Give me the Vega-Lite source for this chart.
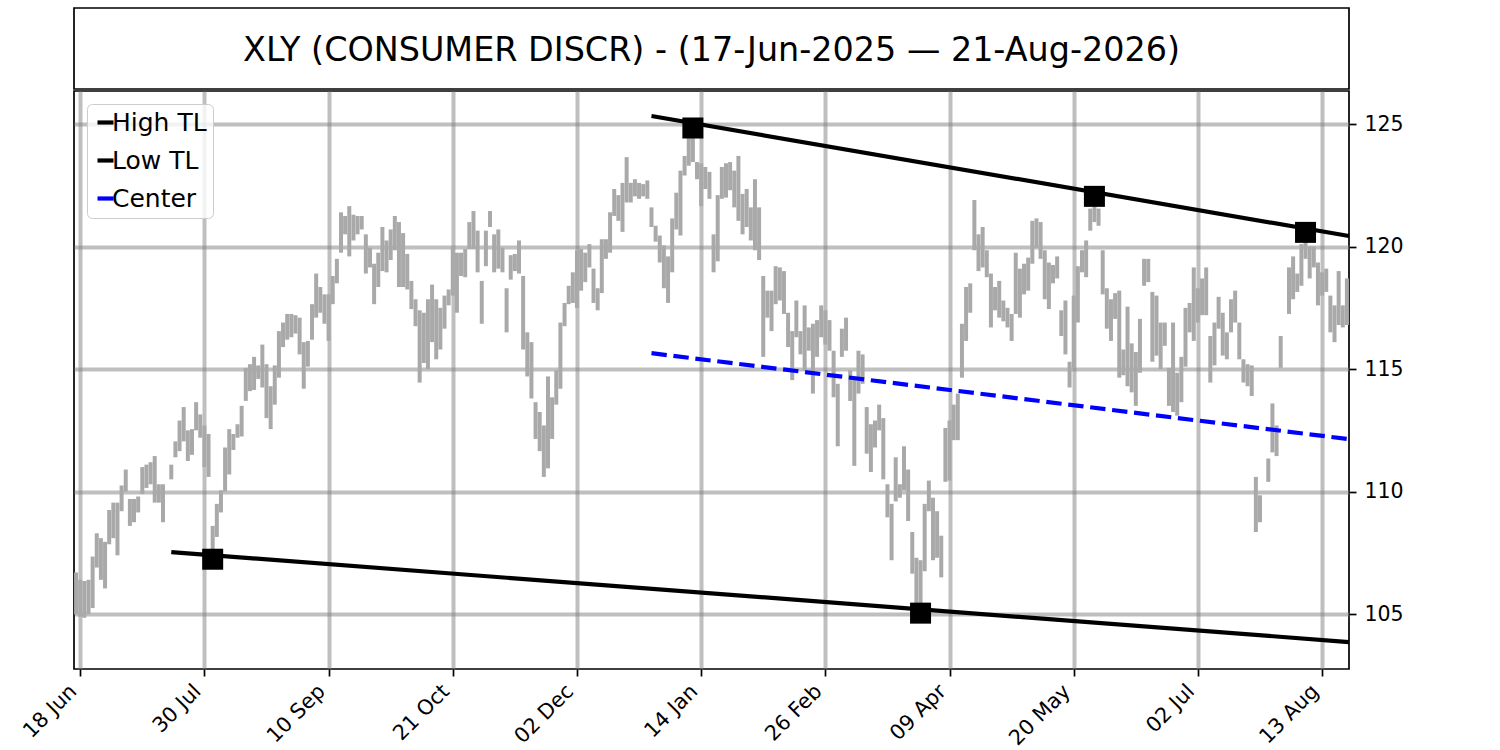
{
  "$schema": "https://vega.github.io/schema/vega-lite/v6.json",
  "background": "white",
  "padding": {"left": 18, "top": 7, "right": 5, "bottom": 5},
  "spacing": 0,
  "datasets": {
    "bars": [
      {"i":0,"lo":105.0,"hi":106.7},{"i":1,"lo":104.9,"hi":106.4},{"i":2,"lo":104.85,"hi":106.35},{"i":3,"lo":105.0,"hi":106.4},
      {"i":4,"lo":105.25,"hi":107.35},{"i":5,"lo":106.9,"hi":108.3},{"i":6,"lo":106.4,"hi":108.1},{"i":7,"lo":106.05,"hi":107.95},
      {"i":8,"lo":107.85,"hi":109.25},{"i":9,"lo":108.1,"hi":109.55},{"i":10,"lo":107.4,"hi":109.55},{"i":11,"lo":109.2,"hi":110.25},
      {"i":12,"lo":110.0,"hi":110.9},{"i":13,"lo":108.6,"hi":109.7},{"i":14,"lo":108.75,"hi":109.7},{"i":15,"lo":109.15,"hi":109.8},
      {"i":16,"lo":109.9,"hi":111.0},{"i":17,"lo":110.15,"hi":111.1},{"i":18,"lo":110.3,"hi":111.2},{"i":19,"lo":109.55,"hi":111.45},
      {"i":20,"lo":109.55,"hi":110.3},{"i":21,"lo":108.75,"hi":110.3},{"i":23,"lo":110.5,"hi":111.1},
      {"i":24,"lo":111.4,"hi":112.05},{"i":25,"lo":111.65,"hi":112.9},{"i":26,"lo":112.05,"hi":113.45},{"i":27,"lo":111.25,"hi":112.5},
      {"i":28,"lo":111.5,"hi":112.55},{"i":29,"lo":112.5,"hi":113.65},{"i":30,"lo":112.2,"hi":113.15},{"i":31,"lo":111.0,"hi":112.7},
      {"i":32,"lo":110.6,"hi":112.35},{"i":33,"lo":107.25,"hi":108.6},{"i":34,"lo":108.15,"hi":109.5},{"i":35,"lo":109.15,"hi":110.05},
      {"i":36,"lo":110.0,"hi":111.8},{"i":37,"lo":110.7,"hi":112.55},{"i":38,"lo":111.7,"hi":112.35},{"i":39,"lo":112.2,"hi":112.75},
      {"i":40,"lo":112.25,"hi":113.5},{"i":41,"lo":113.7,"hi":115.05},{"i":42,"lo":114.1,"hi":115.2},{"i":43,"lo":114.15,"hi":115.5},
      {"i":44,"lo":114.6,"hi":115.15},{"i":45,"lo":114.25,"hi":116.0},{"i":46,"lo":113.0,"hi":115.2},{"i":47,"lo":112.55,"hi":114.3},
      {"i":48,"lo":113.55,"hi":115.15},{"i":49,"lo":114.65,"hi":116.55},{"i":50,"lo":115.9,"hi":116.9},{"i":51,"lo":116.2,"hi":117.25},
      {"i":52,"lo":116.3,"hi":117.25},{"i":53,"lo":116.45,"hi":117.2},{"i":54,"lo":115.6,"hi":117.1},{"i":55,"lo":114.2,"hi":116.1},
      {"i":56,"lo":115.1,"hi":116.15},{"i":57,"lo":116.2,"hi":117.65},{"i":58,"lo":117.1,"hi":118.9},{"i":59,"lo":117.3,"hi":118.35},
      {"i":60,"lo":116.85,"hi":118.05},{"i":61,"lo":116.15,"hi":118.05},{"i":62,"lo":117.65,"hi":118.8},{"i":63,"lo":118.5,"hi":119.5},
      {"i":64,"lo":119.75,"hi":121.4},{"i":65,"lo":120.5,"hi":121.25},{"i":66,"lo":119.6,"hi":121.65},{"i":67,"lo":120.25,"hi":121.3},
      {"i":68,"lo":120.5,"hi":121.25},{"i":69,"lo":120.7,"hi":121.25},{"i":70,"lo":118.9,"hi":120.5},{"i":71,"lo":119.15,"hi":119.95},
      {"i":72,"lo":117.65,"hi":119.3},{"i":73,"lo":118.35,"hi":119.75},{"i":74,"lo":119.0,"hi":120.8},{"i":75,"lo":118.95,"hi":120.25},
      {"i":76,"lo":119.45,"hi":120.7},{"i":77,"lo":119.85,"hi":121.25},{"i":78,"lo":118.35,"hi":121.0},{"i":79,"lo":118.35,"hi":120.55},
      {"i":80,"lo":118.25,"hi":119.7},{"i":81,"lo":117.45,"hi":118.6},{"i":82,"lo":116.75,"hi":117.85},{"i":83,"lo":114.45,"hi":117.4},
      {"i":84,"lo":115.25,"hi":117.3},{"i":85,"lo":115.0,"hi":117.85},{"i":86,"lo":116.1,"hi":118.45},{"i":87,"lo":115.4,"hi":117.85},
      {"i":88,"lo":115.8,"hi":117.5},{"i":89,"lo":116.65,"hi":118.0},{"i":90,"lo":117.6,"hi":118.25},{"i":91,"lo":118.0,"hi":120.0},
      {"i":92,"lo":117.3,"hi":119.75},{"i":93,"lo":118.8,"hi":119.75},{"i":94,"lo":118.75,"hi":119.9},{"i":95,"lo":119.9,"hi":121.0},
      {"i":96,"lo":119.9,"hi":121.45},{"i":97,"lo":118.95,"hi":120.65},{"i":98,"lo":116.85,"hi":118.6},{"i":99,"lo":119.2,"hi":120.65},
      {"i":100,"lo":120.8,"hi":121.45},{"i":101,"lo":118.95,"hi":120.5},{"i":102,"lo":119.1,"hi":120.7},{"i":103,"lo":118.95,"hi":119.95},
      {"i":104,"lo":116.5,"hi":118.3},{"i":105,"lo":118.65,"hi":119.65},{"i":106,"lo":119.0,"hi":119.7},{"i":107,"lo":118.9,"hi":120.25},
      {"i":108,"lo":115.8,"hi":118.8},{"i":109,"lo":114.7,"hi":116.5},{"i":110,"lo":113.8,"hi":116.1},{"i":111,"lo":112.15,"hi":113.65},
      {"i":112,"lo":111.65,"hi":113.25},{"i":113,"lo":110.6,"hi":112.7},{"i":114,"lo":110.95,"hi":114.7},{"i":115,"lo":112.15,"hi":113.85},
      {"i":116,"lo":113.55,"hi":114.95},{"i":117,"lo":114.2,"hi":116.9},{"i":118,"lo":116.75,"hi":117.7},{"i":119,"lo":117.65,"hi":118.4},
      {"i":120,"lo":117.7,"hi":118.95},{"i":121,"lo":117.5,"hi":119.85},{"i":122,"lo":118.2,"hi":119.9},{"i":123,"lo":118.55,"hi":119.75},
      {"i":124,"lo":119.15,"hi":120.1},{"i":125,"lo":117.7,"hi":119.1},{"i":126,"lo":117.4,"hi":118.3},{"i":127,"lo":118.1,"hi":120.3},
      {"i":128,"lo":119.5,"hi":120.3},{"i":129,"lo":119.75,"hi":121.4},{"i":130,"lo":121.25,"hi":122.35},{"i":131,"lo":121.05,"hi":122.1},
      {"i":132,"lo":120.6,"hi":122.6},{"i":133,"lo":121.8,"hi":123.65},{"i":134,"lo":121.8,"hi":122.6},{"i":135,"lo":122.05,"hi":122.75},
      {"i":136,"lo":121.95,"hi":122.6},{"i":137,"lo":122.05,"hi":122.55},{"i":138,"lo":121.95,"hi":122.7},{"i":139,"lo":120.8,"hi":121.6},
      {"i":140,"lo":120.2,"hi":120.85},{"i":141,"lo":119.35,"hi":120.45},{"i":142,"lo":118.3,"hi":120.05},{"i":143,"lo":117.7,"hi":119.6},
      {"i":144,"lo":118.95,"hi":121.15},{"i":145,"lo":120.7,"hi":122.2},{"i":146,"lo":120.45,"hi":123.1},{"i":147,"lo":122.9,"hi":123.7},
      {"i":148,"lo":123.3,"hi":124.45},{"i":149,"lo":123.45,"hi":124.84},{"i":150,"lo":122.75,"hi":123.45},{"i":151,"lo":121.65,"hi":123.4},
      {"i":152,"lo":122.35,"hi":123.25},{"i":153,"lo":121.95,"hi":123.05},{"i":154,"lo":118.95,"hi":120.5},{"i":155,"lo":119.4,"hi":122.1},
      {"i":156,"lo":121.95,"hi":123.25},{"i":157,"lo":122.0,"hi":123.4},{"i":158,"lo":122.3,"hi":123.45},{"i":159,"lo":121.6,"hi":123.1},
      {"i":160,"lo":121.05,"hi":123.7},{"i":161,"lo":120.5,"hi":122.15},{"i":162,"lo":120.8,"hi":122.35},{"i":163,"lo":120.25,"hi":121.6},
      {"i":164,"lo":119.85,"hi":122.75},{"i":165,"lo":119.45,"hi":121.6},{"i":166,"lo":115.5,"hi":118.8},{"i":167,"lo":117.1,"hi":118.2},
      {"i":168,"lo":116.55,"hi":118.2},{"i":169,"lo":117.65,"hi":119.2},{"i":170,"lo":117.8,"hi":119.15},{"i":171,"lo":117.25,"hi":119.0},
      {"i":172,"lo":115.9,"hi":117.3},{"i":173,"lo":114.55,"hi":116.55},{"i":174,"lo":116.3,"hi":117.8},{"i":175,"lo":115.6,"hi":116.55},
      {"i":176,"lo":114.95,"hi":117.6},{"i":177,"lo":115.75,"hi":116.7},{"i":178,"lo":114.0,"hi":116.85},{"i":179,"lo":115.5,"hi":117.0},
      {"i":180,"lo":116.3,"hi":117.6},{"i":181,"lo":116.0,"hi":117.4},{"i":182,"lo":115.75,"hi":117.0},{"i":183,"lo":113.85,"hi":115.75},
      {"i":184,"lo":111.85,"hi":114.4},{"i":185,"lo":115.5,"hi":116.65},{"i":186,"lo":115.75,"hi":117.1},{"i":187,"lo":113.7,"hi":114.95},
      {"i":188,"lo":111.05,"hi":114.65},{"i":189,"lo":114.0,"hi":115.75},{"i":190,"lo":114.4,"hi":115.6},{"i":191,"lo":111.55,"hi":113.45},
      {"i":192,"lo":110.8,"hi":112.75},{"i":193,"lo":111.8,"hi":112.9},{"i":194,"lo":112.5,"hi":113.55},{"i":195,"lo":110.5,"hi":113.0},
      {"i":196,"lo":108.95,"hi":110.3},{"i":197,"lo":107.2,"hi":109.5},{"i":198,"lo":109.6,"hi":111.4},{"i":199,"lo":109.75,"hi":110.3},
      {"i":200,"lo":110.05,"hi":111.85},{"i":201,"lo":108.8,"hi":110.9},{"i":202,"lo":106.65,"hi":108.35},{"i":203,"lo":105.4,"hi":107.3},
      {"i":204,"lo":105.04,"hi":107.2},{"i":205,"lo":106.75,"hi":109.5},{"i":206,"lo":109.2,"hi":110.45},{"i":207,"lo":107.2,"hi":109.75},
      {"i":208,"lo":107.3,"hi":109.2},{"i":209,"lo":106.5,"hi":108.2},{"i":210,"lo":110.4,"hi":112.6},{"i":211,"lo":110.45,"hi":112.9},
      {"i":212,"lo":112.1,"hi":113.55},{"i":213,"lo":112.1,"hi":114.0},{"i":214,"lo":114.65,"hi":116.85},{"i":215,"lo":116.15,"hi":118.35},
      {"i":216,"lo":117.3,"hi":118.5},{"i":217,"lo":119.85,"hi":121.9},{"i":218,"lo":119.0,"hi":120.5},{"i":219,"lo":119.15,"hi":120.8},
      {"i":220,"lo":118.75,"hi":119.85},{"i":221,"lo":116.7,"hi":118.9},{"i":222,"lo":117.4,"hi":118.35},{"i":223,"lo":117.1,"hi":118.6},
      {"i":224,"lo":116.95,"hi":117.8},{"i":225,"lo":116.7,"hi":117.5},{"i":226,"lo":116.15,"hi":117.25},{"i":227,"lo":117.25,"hi":119.75},
      {"i":228,"lo":117.1,"hi":119.1},{"i":229,"lo":118.05,"hi":119.3},{"i":230,"lo":118.2,"hi":119.55},{"i":231,"lo":119.3,"hi":121.05},
      {"i":232,"lo":119.95,"hi":121.15},{"i":233,"lo":119.5,"hi":121.0},{"i":234,"lo":117.85,"hi":119.85},{"i":235,"lo":117.45,"hi":119.35},
      {"i":236,"lo":118.5,"hi":119.25},{"i":237,"lo":118.7,"hi":119.6},{"i":238,"lo":116.35,"hi":117.4},{"i":239,"lo":115.6,"hi":117.8},
      {"i":240,"lo":114.25,"hi":115.3},{"i":241,"lo":115.05,"hi":118.0},{"i":242,"lo":116.9,"hi":119.2},{"i":243,"lo":118.95,"hi":119.85},
      {"i":244,"lo":118.75,"hi":120.25},{"i":245,"lo":120.65,"hi":121.55},{"i":246,"lo":121.0,"hi":122.05},{"i":247,"lo":120.85,"hi":121.55},
      {"i":248,"lo":118.05,"hi":119.85},{"i":249,"lo":116.65,"hi":118.3},{"i":250,"lo":116.15,"hi":117.85},{"i":251,"lo":117.05,"hi":118.1},
      {"i":252,"lo":114.65,"hi":118.2},{"i":253,"lo":114.75,"hi":115.8},{"i":254,"lo":114.3,"hi":117.55},{"i":255,"lo":114.05,"hi":116.05},
      {"i":256,"lo":113.5,"hi":115.7},{"i":257,"lo":114.85,"hi":117.05},{"i":258,"lo":118.4,"hi":119.5},{"i":259,"lo":118.55,"hi":119.5},
      {"i":260,"lo":115.3,"hi":118.15},{"i":261,"lo":115.55,"hi":118.0},{"i":262,"lo":115.0,"hi":116.9},{"i":263,"lo":115.95,"hi":116.9},
      {"i":264,"lo":113.5,"hi":115.05},{"i":265,"lo":113.25,"hi":116.9},{"i":266,"lo":113.1,"hi":114.85},{"i":267,"lo":113.65,"hi":115.5},
      {"i":268,"lo":115.1,"hi":117.5},{"i":269,"lo":116.5,"hi":117.7},{"i":270,"lo":116.15,"hi":119.15},{"i":271,"lo":116.9,"hi":118.3},
      {"i":272,"lo":117.2,"hi":118.7},{"i":273,"lo":117.2,"hi":119.15},{"i":274,"lo":114.45,"hi":116.35},{"i":275,"lo":115.15,"hi":116.9},
      {"i":276,"lo":116.65,"hi":117.95},{"i":277,"lo":115.55,"hi":117.3},{"i":278,"lo":115.4,"hi":116.5},{"i":279,"lo":116.5,"hi":117.85},
      {"i":280,"lo":116.9,"hi":118.2},{"i":281,"lo":115.4,"hi":116.9},{"i":282,"lo":114.45,"hi":115.4},{"i":283,"lo":114.3,"hi":115.2},
      {"i":284,"lo":113.9,"hi":115.15},{"i":285,"lo":108.35,"hi":110.6},{"i":286,"lo":108.75,"hi":109.85},
      {"i":288,"lo":110.4,"hi":111.35},{"i":289,"lo":111.6,"hi":113.6},{"i":290,"lo":111.45,"hi":112.7},{"i":291,"lo":115.05,"hi":116.35},
      {"i":293,"lo":117.25,"hi":119.15},{"i":294,"lo":117.85,"hi":119.6},{"i":295,"lo":118.15,"hi":118.9},
      {"i":296,"lo":118.4,"hi":120.1},{"i":297,"lo":119.5,"hi":120.58},{"i":298,"lo":118.7,"hi":120.0},{"i":299,"lo":119.15,"hi":120.0},
      {"i":300,"lo":117.6,"hi":119.35},{"i":301,"lo":118.0,"hi":118.95},{"i":302,"lo":118.15,"hi":119.1},{"i":303,"lo":116.5,"hi":118.0},
      {"i":304,"lo":116.1,"hi":117.6},{"i":305,"lo":116.8,"hi":119.0},{"i":306,"lo":116.7,"hi":117.6},{"i":307,"lo":116.8,"hi":118.7}
    ],
    "lines": [
      {"s":"High TL","i":139,"v":125.33},{"s":"High TL","i":307.5,"v":120.43},
      {"s":"Low TL","i":23,"v":107.53},{"s":"Low TL","i":307.5,"v":103.86},
      {"s":"Center","i":139,"v":115.65},{"s":"Center","i":307.5,"v":112.14}
    ],
    "pivots": [
      {"i":33,"v":107.24},{"i":204,"v":105.04},
      {"i":149,"v":124.84},{"i":246,"v":122.05},{"i":297,"v":120.58}
    ]
  },
  "vconcat": [
    {
      "width": 1275,
      "height": 81,
      "view": {"stroke": "black", "strokeWidth": 1.7, "fill": "white"},
      "data": {"values": [{"t": "XLY (CONSUMER DISCR) - (17-Jun-2025 — 21-Aug-2026)"}]},
      "mark": {"type": "text", "font": "DejaVu Sans", "fontSize": 33.4, "color": "black", "dy": 2},
      "encoding": {"text": {"field": "t", "type": "nominal"}}
    },
    {
      "width": 1275,
      "height": 578,
      "layer": [
        {
          "data": {"name": "bars"},
          "mark": {"type": "rule", "color": "#a9a9a9", "strokeWidth": 4},
          "encoding": {
            "x": {
              "field": "i", "type": "quantitative",
              "scale": {"domain": [-0.5, 307.5], "nice": false, "zero": false},
              "axis": {
                "title": null,
                "values": [1, 31, 61, 91, 121, 151, 181, 211, 241, 271, 301],
                "labelExpr": "['18 Jun','30 Jul','10 Sep','21 Oct','02 Dec','14 Jan','26 Feb','09 Apr','20 May','02 Jul','13 Aug'][round((datum.value-1)/30)]",
                "labelFontSize": 20.8,
                "labelAngle": -45, "labelAlign": "right", "labelBaseline": "bottom", "labelPadding": 19
              }
            },
            "y": {
              "field": "lo", "type": "quantitative",
              "scale": {"domain": [102.76, 126.35], "nice": false, "zero": false},
              "axis": {"title": null, "orient": "right", "values": [105, 110, 115, 120, 125], "labelFontSize": 20.5, "labelPadding": 8}
            },
            "y2": {"field": "hi"}
          }
        },
        {
          "data": {"name": "lines"},
          "transform": [{"filter": "datum.s !== 'Center'"}],
          "mark": {"type": "line", "strokeWidth": 4.2},
          "encoding": {
            "x": {"field": "i", "type": "quantitative"},
            "y": {"field": "v", "type": "quantitative"},
            "color": {
              "field": "s", "type": "nominal",
              "scale": {"domain": ["High TL", "Low TL", "Center"], "range": ["black", "black", "blue"]},
              "legend": {"title": null, "orient": "top-left", "offset": 13}
            }
          }
        },
        {
          "data": {"name": "lines"},
          "transform": [{"filter": "datum.s === 'Center'"}],
          "mark": {"type": "line", "strokeWidth": 4.2, "strokeDash": [15.4, 6.7]},
          "encoding": {
            "x": {"field": "i", "type": "quantitative"},
            "y": {"field": "v", "type": "quantitative"},
            "color": {"field": "s", "type": "nominal"}
          }
        },
        {
          "data": {"name": "pivots"},
          "mark": {"type": "point", "shape": "square", "filled": true, "color": "black", "opacity": 1, "size": 441},
          "encoding": {
            "x": {"field": "i", "type": "quantitative"},
            "y": {"field": "v", "type": "quantitative"}
          }
        }
      ]
    }
  ],
  "resolve": {
    "scale": {"color": "independent"},
    "legend": {"color": "independent"}
  },
  "config": {
    "font": "DejaVu Sans",
    "view": {"stroke": "black", "strokeWidth": 1.7},
    "axis": {
      "domain": false,
      "labelFont": "DejaVu Sans",
      "labelFontSize": 20,
      "labelColor": "black",
      "tickColor": "black",
      "tickWidth": 1.7,
      "tickSize": 7,
      "gridColor": "#808080",
      "gridOpacity": 0.5,
      "gridWidth": 4
    },
    "legend": {
      "labelFont": "DejaVu Sans",
      "labelFontSize": 25,
      "labelColor": "black",
      "labelOffset": -6,
      "symbolType": "stroke",
      "symbolSize": 256,
      "symbolStrokeWidth": 4.2,
      "rowPadding": 12,
      "padding": 6,
      "strokeColor": "#cccccc",
      "fillColor": "rgba(255,255,255,0.8)",
      "cornerRadius": 5
    }
  }
}
